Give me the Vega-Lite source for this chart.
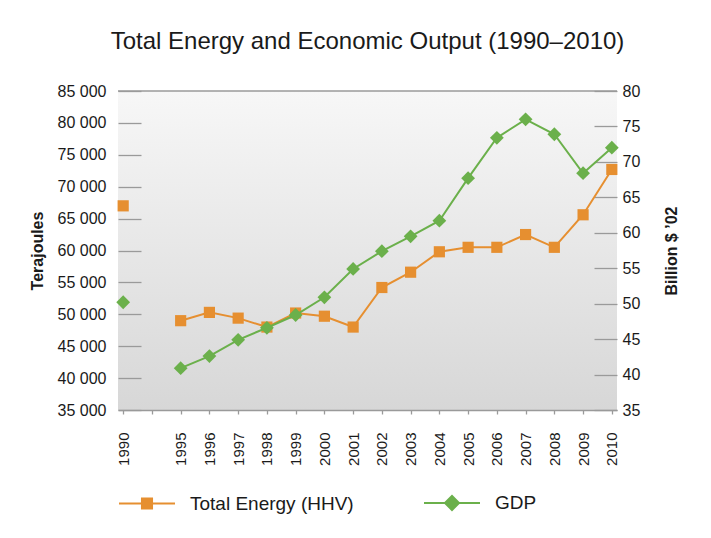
{
  "$schema": "https://vega.github.io/schema/vega-lite/v6.json",
  "width": 499,
  "height": 319,
  "autosize": {"type": "none"},
  "padding": {"left": 118, "top": 91, "right": 94, "bottom": 128},
  "background": "white",
  "view": {
    "stroke": null,
    "fill": {"gradient": "linear", "x1": 0, "y1": 0, "x2": 0, "y2": 1, "stops": [{"offset": 0, "color": "#f7f7f7"}, {"offset": 1, "color": "#d7d7d7"}]}
  },
  "title": {"text": "Total Energy and Economic Output (1990–2010)", "font": "Liberation Sans", "fontSize": 24, "fontWeight": "normal", "color": "#1a1a1a", "offset": 29, "anchor": "middle"},
  "config": {
    "axis": {"labelFont": "Liberation Sans", "labelFontSize": 16, "labelColor": "#1a1a1a", "labelOverlap": false, "titleFont": "Liberation Sans", "titleFontSize": 16, "titleFontWeight": "bold", "titleColor": "#1a1a1a", "grid": false, "tickColor": "#9a9a9a", "tickWidth": 1.3, "domainColor": "#9a9a9a", "domainWidth": 1.3}
  },
  "data": {"values": [
    {"year": "1990", "energy": 67000, "gdp": 50.2},
    {"year": "1995", "energy": 49000, "gdp": 40.9},
    {"year": "1996", "energy": 50300, "gdp": 42.6},
    {"year": "1997", "energy": 49400, "gdp": 44.9},
    {"year": "1998", "energy": 48000, "gdp": 46.6},
    {"year": "1999", "energy": 50200, "gdp": 48.4},
    {"year": "2000", "energy": 49700, "gdp": 50.9},
    {"year": "2001", "energy": 48000, "gdp": 54.9},
    {"year": "2002", "energy": 54200, "gdp": 57.4},
    {"year": "2003", "energy": 56600, "gdp": 59.5},
    {"year": "2004", "energy": 59800, "gdp": 61.7},
    {"year": "2005", "energy": 60500, "gdp": 67.7},
    {"year": "2006", "energy": 60500, "gdp": 73.4},
    {"year": "2007", "energy": 62500, "gdp": 76.0},
    {"year": "2008", "energy": 60500, "gdp": 73.9},
    {"year": "2009", "energy": 65600, "gdp": 68.4},
    {"year": "2010", "energy": 72700, "gdp": 72.0}
  ]},
  "encoding": {
    "x": {
      "field": "year", "type": "ordinal",
      "scale": {"type": "point", "domain": ["1990", "gap", "1995", "1996", "1997", "1998", "1999", "2000", "2001", "2002", "2003", "2004", "2005", "2006", "2007", "2008", "2009", "2010"], "padding": 0.18},
      "axis": {"title": null, "labelAngle": 270, "labelPadding": 18, "labelFontSize": 15, "tickSize": 4, "domain": true, "labelExpr": "datum.value == 'gap' ? '' : datum.value"}
    }
  },
  "layer": [
    {
      "layer": [
        {
          "data": {"values": [{"v": 85000}]},
          "mark": {"type": "rule", "color": "#9a9a9a", "strokeWidth": 1.3},
          "encoding": {"x": null, "y": {"field": "v", "type": "quantitative",
              "axis": {"title": "Terajoules", "orient": "left", "domain": false, "tickSize": -23, "labelPadding": 35, "titlePadding": 12, "labelOverlap": false, "tickCount": 30, "values": [35000, 40000, 45000, 50000, 55000, 60000, 65000, 70000, 75000, 80000, 85000], "labelExpr": "replace(format(datum.value, ','), ',', ' ')"}}}
        },
        {
          "transform": [{"filter": "datum.year != '1990'"}],
          "mark": {"type": "line", "strokeWidth": 2},
          "encoding": {
            "y": {"field": "energy", "type": "quantitative", "scale": {"domain": [35000, 85000], "nice": false, "zero": false},
              "axis": {"title": "Terajoules", "orient": "left", "domain": false, "tickSize": -23, "labelPadding": 35, "titlePadding": 12, "labelOverlap": false, "tickCount": 30, "values": [35000, 40000, 45000, 50000, 55000, 60000, 65000, 70000, 75000, 80000, 85000], "labelExpr": "replace(format(datum.value, ','), ',', ' ')"}},
            "color": {"datum": "Total Energy (HHV)", "type": "nominal",
              "scale": {"domain": ["Total Energy (HHV)", "GDP"], "range": ["#E68F30", "#6BB04B"]},
              "legend": {"title": null, "orient": "bottom", "direction": "horizontal", "symbolSize": 3136, "symbolStrokeWidth": 2, "labelFont": "Liberation Sans", "labelFontSize": 19, "labelLimit": 400, "labelColor": "#1a1a1a", "labelOffset": 14, "columnPadding": 66, "offset": 8,
                "encode": {"symbols": {"update": {
                  "shape": {"signal": "datum.value === 'GDP' ? 'M-1,0H1M-0.25,0L0,-0.25L0.25,0L0,0.25Z' : 'M-1,0H1M-0.18,-0.18H0.18V0.18H-0.18Z'"},
                  "fill": {"signal": "scale('color', datum.value)"},
                  "stroke": {"signal": "scale('color', datum.value)"},
                  "opacity": {"value": 1},
                  "fillOpacity": {"value": 1}
                }}}}
            }
          }
        },
        {
          "mark": {"type": "point", "shape": "square", "filled": true, "size": 125, "opacity": 1},
          "encoding": {
            "y": {"field": "energy", "type": "quantitative",
              "axis": {"title": "Terajoules", "orient": "left", "domain": false, "tickSize": -23, "labelPadding": 35, "titlePadding": 12, "labelOverlap": false, "tickCount": 30, "values": [35000, 40000, 45000, 50000, 55000, 60000, 65000, 70000, 75000, 80000, 85000], "labelExpr": "replace(format(datum.value, ','), ',', ' ')"}},
            "color": {"datum": "Total Energy (HHV)", "type": "nominal"}
          }
        }
      ]
    },
    {
      "layer": [
        {
          "transform": [{"filter": "datum.year != '1990'"}],
          "mark": {"type": "line", "strokeWidth": 2},
          "encoding": {
            "y": {"field": "gdp", "type": "quantitative", "scale": {"domain": [35, 80], "nice": false, "zero": false},
              "axis": {"title": "Billion $ ’02", "orient": "right", "domain": false, "tickSize": -23, "labelPadding": 28, "titlePadding": 40, "titleAngle": 270, "labelOverlap": false, "tickCount": 30, "values": [35, 40, 45, 50, 55, 60, 65, 70, 75, 80]}},
            "color": {"datum": "GDP", "type": "nominal"}
          }
        },
        {
          "mark": {"type": "point", "shape": "diamond", "filled": true, "size": 190, "opacity": 1},
          "encoding": {
            "y": {"field": "gdp", "type": "quantitative",
              "axis": {"title": "Billion $ ’02", "orient": "right", "domain": false, "tickSize": -23, "labelPadding": 28, "titlePadding": 40, "titleAngle": 270, "labelOverlap": false, "tickCount": 30, "values": [35, 40, 45, 50, 55, 60, 65, 70, 75, 80]}},
            "color": {"datum": "GDP", "type": "nominal"}
          }
        }
      ]
    }
  ],
  "resolve": {"scale": {"y": "independent"}}
}
